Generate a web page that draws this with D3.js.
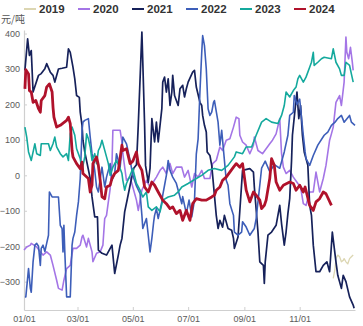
<!DOCTYPE html>
<html><head><meta charset="utf-8">
<script src="https://cdn.jsdelivr.net/npm/d3@7/dist/d3.min.js"></script>
<style>
body{margin:0;background:#fff;}
svg{display:block;font-family:"Liberation Sans",Arial,sans-serif;}
</style>
</head><body>
<svg id="chart" width="363" height="326"></svg>
<script>
// ---- data (day of year, value in 元/吨) ----
const years = ["2019","2020","2021","2022","2023","2024"];
const colors = ["#dcd6b2","#a475e6","#16215a","#3d5eb9","#14a99d","#b0122b"];
const widths = [1.3,1.6,1.7,1.6,1.6,2.8];

const s2019 = [[341,-291],[343,-263],[344,-235],[346,-225],[348,-230],[350,-244],[352,-240],[353,-235],[355,-244],[357,-250],[359,-235],[361,-230],[363,-225]];

const s2020 = [[0,-211],[3,-202],[7,-197],[8,-192],[14,-202],[18,-216],[21,-225],[25,-216],[29,-225],[32,-254],[36,-296],[38,-319],[42,-324],[44,-296],[47,-263],[51,-254],[54,-206],[58,-206],[62,-197],[64,-174],[65,-169],[69,-202],[71,-178],[75,-216],[76,-244],[80,-220],[84,-216],[87,-197],[89,-122],[91,-113],[93,-75],[95,-38],[97,28],[98,127],[106,127],[108,94],[109,61],[113,-14],[117,-5],[120,-33],[124,-70],[126,-99],[130,-42],[135,-14],[139,-33],[146,-5],[150,14],[153,23],[157,5],[161,33],[164,5],[168,23],[174,23],[177,-5],[181,14],[185,-33],[188,5],[192,-5],[196,14],[199,-9],[205,-9],[208,33],[212,42],[216,80],[219,70],[223,99],[227,103],[231,136],[234,164],[237,160],[238,113],[241,94],[245,85],[249,61],[253,85],[254,108],[258,70],[263,61],[271,89],[274,99],[278,117],[282,160],[284,61],[286,23],[289,5],[293,14],[297,-5],[302,-23],[305,-33],[308,-80],[311,-85],[315,-47],[319,-47],[322,9],[326,-47],[330,-9],[333,28],[337,99],[339,117],[341,136],[344,206],[348,225],[350,197],[353,263],[355,390],[356,347],[358,329],[360,361],[362,320],[363,296]];

const s2021 = [[1,296],[4,385],[6,338],[8,352],[10,235],[16,282],[19,287],[23,301],[25,315],[29,291],[32,282],[34,263],[38,300],[42,302],[47,305],[49,357],[51,347],[54,305],[56,272],[58,225],[61,220],[62,178],[64,141],[65,99],[67,66],[73,-9],[75,-61],[78,-117],[81,-117],[82,-211],[86,-220],[91,-225],[97,-197],[100,-277],[104,-225],[106,-197],[108,-178],[111,-103],[114,-66],[117,-28],[121,20],[124,30],[126,141],[130,404],[131,319],[133,141],[134,28],[137,-20],[139,20],[141,160],[144,94],[146,150],[148,94],[152,188],[153,263],[155,277],[157,235],[159,272],[161,197],[163,235],[164,282],[166,225],[170,197],[172,244],[175,254],[177,221],[179,244],[181,263],[186,291],[188,296],[190,249],[194,206],[196,197],[197,169],[199,141],[201,122],[202,66],[205,56],[207,28],[212,-113],[214,-150],[216,-127],[219,-146],[221,-113],[225,-150],[229,-155],[231,-178],[232,-206],[236,-174],[238,-100],[241,14],[249,19],[253,9],[254,-33],[258,-160],[260,-244],[264,-254],[265,-305],[266,-244],[269,-169],[273,-160],[278,-141],[282,-85],[284,-136],[287,-197],[289,-160],[291,-108],[293,-66],[295,40],[296,113],[299,188],[301,235],[303,160],[305,197],[307,113],[309,66],[313,28],[315,-85],[317,-113],[319,-197],[322,-272],[326,-272],[330,-254],[334,-244],[337,-272],[340,-160],[344,-244],[346,-282],[350,-319],[352,-282],[355,-300],[359,-343],[363,-366],[364,-375]];

const s2022 = [[1,-343],[2,-343],[5,-263],[7,-319],[8,-330],[10,-244],[12,-197],[14,-192],[16,-200],[18,-254],[19,-206],[21,-197],[23,-215],[25,-192],[27,-169],[28,-47],[31,-61],[36,-61],[38,-61],[40,-141],[42,-150],[43,-216],[44,-141],[45,-216],[47,-343],[51,-343],[53,-197],[54,-178],[56,-160],[58,-113],[60,-75],[62,-9],[64,127],[65,150],[67,155],[71,160],[73,108],[75,61],[78,14],[80,-33],[82,-47],[84,-9],[86,23],[89,-33],[91,-5],[95,33],[97,-14],[100,5],[102,61],[106,23],[108,75],[109,108],[113,89],[117,42],[120,0],[124,-30],[128,-52],[130,-113],[131,-150],[135,-122],[137,-169],[139,-216],[141,-178],[143,-131],[144,-113],[146,-94],[148,-122],[152,-75],[153,-56],[155,-28],[157,0],[159,42],[161,14],[164,-5],[168,-23],[174,-80],[175,-60],[179,-108],[182,-70],[185,-117],[188,-70],[190,60],[192,103],[194,235],[196,347],[197,394],[199,366],[201,300],[203,188],[205,169],[207,178],[209,206],[210,211],[214,150],[216,85],[218,127],[223,-14],[225,-28],[227,-80],[231,-113],[232,-160],[236,-169],[240,-160],[241,-131],[245,-146],[249,-169],[254,-150],[256,-122],[260,-28],[262,20],[266,40],[271,10],[276,30],[282,20],[287,66],[291,113],[293,169],[297,178],[298,225],[301,200],[304,215],[308,113],[310,66],[311,47],[315,28],[319,56],[324,85],[331,113],[335,122],[339,141],[343,150],[346,160],[350,169],[353,150],[359,169],[361,150],[365,141]];

const s2023 = [[1,136],[3,108],[5,66],[8,42],[12,89],[14,61],[18,56],[19,89],[27,89],[29,70],[32,89],[34,108],[36,80],[40,61],[43,52],[47,61],[49,42],[51,117],[53,136],[56,113],[58,75],[62,47],[64,14],[67,52],[69,117],[71,103],[73,80],[75,42],[78,61],[80,33],[82,70],[84,80],[86,99],[91,52],[93,33],[95,0],[98,23],[102,42],[106,19],[108,5],[109,-14],[111,-42],[113,-23],[117,0],[120,19],[124,-23],[128,-42],[131,-61],[135,-47],[137,-89],[141,-99],[146,-89],[150,-103],[153,-70],[159,-61],[166,-56],[170,-47],[174,-33],[181,-23],[190,-9],[196,0],[203,14],[210,19],[218,14],[225,28],[232,52],[234,66],[241,61],[245,80],[251,80],[256,113],[262,150],[267,160],[273,150],[280,146],[284,169],[287,197],[289,235],[293,221],[297,239],[300,249],[302,272],[304,282],[308,263],[311,277],[315,305],[317,319],[319,347],[320,310],[324,319],[328,329],[331,333],[339,329],[341,357],[344,319],[348,300],[350,282],[353,282],[355,319],[359,310],[361,286],[363,263]];

const s2024 = [[1,244],[2,298],[5,286],[6,239],[8,235],[10,206],[13,211],[16,188],[18,178],[19,211],[23,225],[25,249],[28,258],[31,235],[32,192],[33,164],[36,136],[40,141],[47,155],[49,164],[51,146],[53,70],[54,52],[58,33],[62,19],[64,37],[65,5],[71,-9],[73,-47],[75,-28],[76,33],[80,52],[82,28],[84,-14],[86,-61],[89,-66],[91,-33],[95,-28],[97,-9],[100,5],[104,14],[108,85],[109,70],[113,75],[117,33],[120,40],[124,66],[126,33],[130,14],[133,-33],[137,-47],[141,-19],[144,-28],[148,-47],[153,-70],[157,-80],[161,-94],[164,-89],[168,-108],[172,-99],[175,-127],[179,-99],[183,-127],[186,-80],[190,-66],[196,-70],[201,-70],[207,-61],[210,-56],[212,-42],[216,-33],[219,-14],[223,-5],[227,9],[231,23],[234,33],[238,23],[241,33],[245,-42],[249,-75],[253,-47],[256,-56],[260,-70],[262,-94],[265,-85],[267,-70],[271,-9],[273,47],[276,28],[278,-19],[282,-42],[286,-28],[293,-19],[297,-23],[300,-42],[304,-28],[308,-47],[310,-33],[315,-85],[319,-99],[322,-75],[326,-66],[330,-47],[333,-52],[339,-85]];

const seriesData = [s2019, s2020, s2021, s2022, s2023, s2024];
const yTicks = [400,300,200,100,0,-100,-200,-300];
const xTickDays = [0,59,120,181,243,304];
const xTickLabels = ["01/01","03/01","05/01","07/01","09/01","11/01"];
const unitLabel = "元/吨";

// ---- drawing ----
const svg = d3.select("#chart");
const x = d3.scaleLinear().domain([0,365]).range([24,355]);
const y = d3.scaleLinear().domain([-380,410]).range([310,30]);

const yAxis = d3.axisLeft(y).tickValues(yTicks).tickSize(-3).tickSizeOuter(0).tickPadding(4);
const gy = svg.append("g").attr("transform","translate(24,0)").call(yAxis);
const xAxis = d3.axisBottom(x).tickValues(xTickDays).tickFormat((d,i)=>xTickLabels[i]).tickSize(-3).tickSizeOuter(0).tickPadding(6);
const gx = svg.append("g").attr("transform","translate(0,310)").call(xAxis);
[gx,gy].forEach(g=>{
  g.selectAll(".domain").attr("stroke","#cfcfcf").attr("stroke-width",1.2);
  g.selectAll(".tick line").attr("stroke","#cfcfcf");
  g.selectAll(".tick text").attr("fill","#5a5a5a").style("font-size","9px");
});

svg.append("text").attr("x",1).attr("y",23).attr("fill","#555")
  .style("font-size","10px").style("font-family","'Noto Sans CJK SC',sans-serif").text(unitLabel);

const line = d3.line().x(d=>x(d[0])).y(d=>y(d[1]));
seriesData.forEach((s,i)=>{
  svg.append("path").datum(s).attr("d",line).attr("fill","none")
    .attr("stroke",colors[i]).attr("stroke-width",widths[i]).attr("stroke-linejoin","round");
});

// legend
const lg = svg.append("g");
years.forEach((yr,i)=>{
  const x0 = 24 + i*54;
  lg.append("line").attr("x1",x0).attr("x2",x0+12).attr("y1",9).attr("y2",9)
    .attr("stroke",colors[i]).attr("stroke-width",2);
  lg.append("text").attr("x",x0+15).attr("y",13).attr("fill","#333")
    .style("font-size","11.5px").style("font-weight","bold").text(yr);
});
</script>
</body></html>
